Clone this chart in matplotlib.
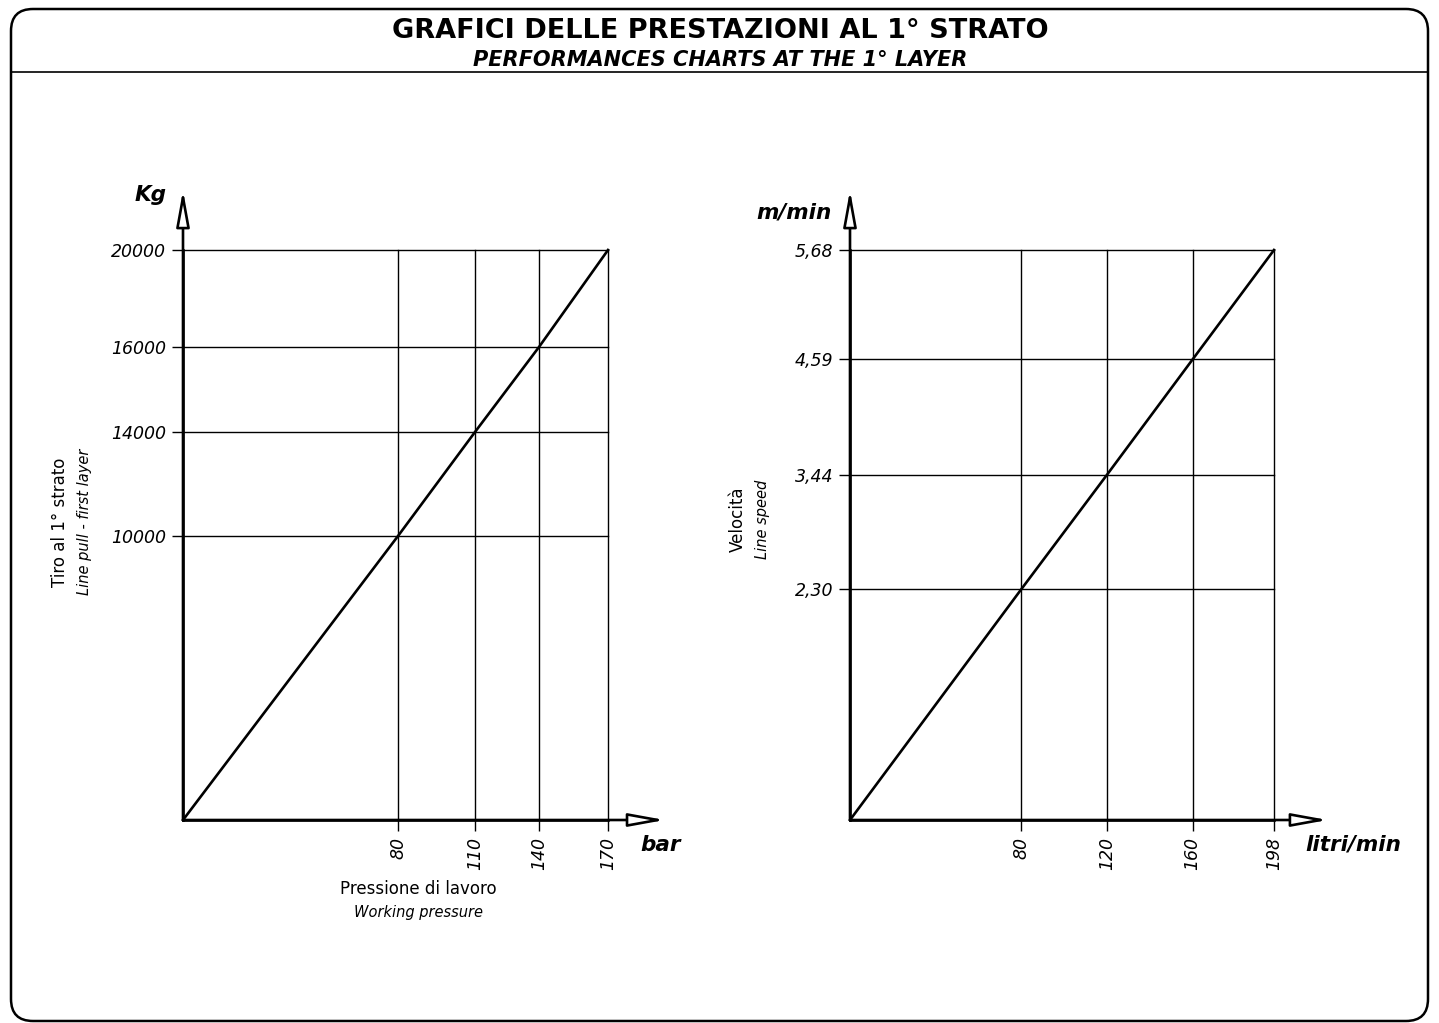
import numpy as np
import matplotlib
matplotlib.use("Agg")
import matplotlib.pyplot as plt
from matplotlib.patches import FancyBboxPatch

# ---------------- data ----------------
pressure_bar = [0, 80, 110, 140, 170]
pull_kg = [0, 10000, 14000, 16000, 20000]
pressure_ticks = [80, 110, 140, 170]
pull_ticks = [10000, 14000, 16000, 20000]

flow_lpm = [0, 80, 120, 160, 198]
speed_mpm = [0, 2.30, 3.44, 4.59, 5.68]
flow_ticks = [80, 120, 160, 198]
speed_ticks = [2.30, 3.44, 4.59, 5.68]
speed_tick_labels = ["2,30", "3,44", "4,59", "5,68"]

# schematic (non-linear) axis positions of the left chart, as fraction of axis length
left_x_frac = [0, 215 / 425, 292 / 425, 356 / 425, 1.0]
left_y_frac = [0, 284 / 570, 388 / 570, 473 / 570, 1.0]

W, H = 1439, 1023
fig = plt.figure(figsize=(W / 100, H / 100), dpi=100)
plt.rcParams['font.family'] = ['DejaVu Sans']

# background frame axes in pixel units
bg = fig.add_axes([0, 0, 1, 1])
bg.set_xlim(0, W)
bg.set_ylim(H, 0)
bg.axis('off')
frame = FancyBboxPatch((11, 9), 1417, 1012, boxstyle="round,pad=0,rounding_size=22",
                       fc='none', ec='black', lw=1.8)
bg.add_patch(frame)
bg.plot([11, 1428], [72, 72], color='black', lw=1.2)
bg.text(720, 31, "GRAFICI DELLE PRESTAZIONI AL 1° STRATO", ha='center', va='center',
        fontsize=19.5, fontweight='heavy')
bg.text(720, 60, "PERFORMANCES CHARTS AT THE 1° LAYER", ha='center', va='center',
        fontsize=15, fontweight='heavy', style='italic')


def style_axes(ax):
    for s in ['top', 'right']:
        ax.spines[s].set_visible(False)
    for s in ['left', 'bottom']:
        ax.spines[s].set_linewidth(1.9)
    ax.tick_params(direction='out', length=8, width=1.0, labelsize=12.5, pad=4)
    ax.tick_params(axis='x', labelrotation=90)
    for lab in ax.get_xticklabels() + ax.get_yticklabels():
        lab.set_style('italic')
    ax.grid(True, color='black', lw=1.0)
    for ln in ax.get_xgridlines() + ax.get_ygridlines():
        ln.set_clip_on(False)
    ax.set_axisbelow(True)


def arrows(ax, xend, yend):
    kw = dict(arrowstyle='-|>,head_length=2.2,head_width=0.4', fc='white', ec='black', lw=1.9,
              shrinkA=0, shrinkB=0)
    ax.annotate('', xy=(xend, 0), xytext=(0, 0), xycoords='axes fraction', arrowprops=kw,
                annotation_clip=False)
    ax.annotate('', xy=(0, yend), xytext=(0, 0), xycoords='axes fraction', arrowprops=kw,
                annotation_clip=False)


# ---------------- left chart ----------------
axL = fig.add_axes([183 / W, 1 - 820 / H, 425 / W, 570 / H])
xs_data = np.array(pressure_bar, dtype=float)
ys_data = np.array(pull_kg, dtype=float)
xs_frac = np.array(left_x_frac)
ys_frac = np.array(left_y_frac)
axL.set_xscale('function', functions=(lambda v: np.interp(v, xs_data, xs_frac),
                                      lambda v: np.interp(v, xs_frac, xs_data)))
axL.set_yscale('function', functions=(lambda v: np.interp(v, ys_data, ys_frac),
                                      lambda v: np.interp(v, ys_frac, ys_data)))
axL.set_xlim(0, 170)
axL.set_ylim(0, 20000)
axL.set_xticks(pressure_ticks)
axL.set_xticklabels([str(t) for t in pressure_ticks])
axL.set_yticks(pull_ticks)
axL.set_yticklabels([str(t) for t in pull_ticks])
axL.xaxis.set_minor_locator(matplotlib.ticker.NullLocator())
axL.yaxis.set_minor_locator(matplotlib.ticker.NullLocator())
style_axes(axL)
axL.plot(pressure_bar, pull_kg, color='black', lw=1.9, clip_on=False, zorder=5)
arrows(axL, 1.134, 1.105)

# ---------------- right chart ----------------
axR = fig.add_axes([850 / W, 1 - 820 / H, 424 / W, 570 / H])
axR.set_xlim(0, 198)
axR.set_ylim(0, 5.68)
axR.set_xticks(flow_ticks)
axR.set_xticklabels([str(t) for t in flow_ticks])
axR.set_yticks(speed_ticks)
axR.set_yticklabels(speed_tick_labels)
style_axes(axR)
axR.plot(flow_lpm, speed_mpm, color='black', lw=1.9, clip_on=False, zorder=5)
arrows(axR, 1.127, 1.105)

# ---------------- labels ----------------
bi = dict(fontweight='heavy', style='italic', fontsize=15.5, va='center')
bg.text(167, 195, "Kg", ha='right', **bi)
bg.text(640, 845, "bar", ha='left', **bi)
bg.text(832, 213, "m/min", ha='right', **bi)
bg.text(1305, 845, "litri/min", ha='left', **bi)

bg.text(418, 889, "Pressione di lavoro", ha='center', va='center', fontsize=12)
bg.text(418, 913, "Working pressure", ha='center', va='center', fontsize=10.5, style='italic')
bg.text(60, 522, "Tiro al 1° strato", ha='center', va='center', rotation=90, fontsize=12)
bg.text(84, 522, "Line pull - first layer", ha='center', va='center', rotation=90,
        fontsize=10.5, style='italic')
bg.text(738, 519, "Velocità", ha='center', va='center', rotation=90, fontsize=12)
bg.text(762, 519, "Line speed", ha='center', va='center', rotation=90, fontsize=10.5, style='italic')

fig.savefig("out.png", dpi=100)
